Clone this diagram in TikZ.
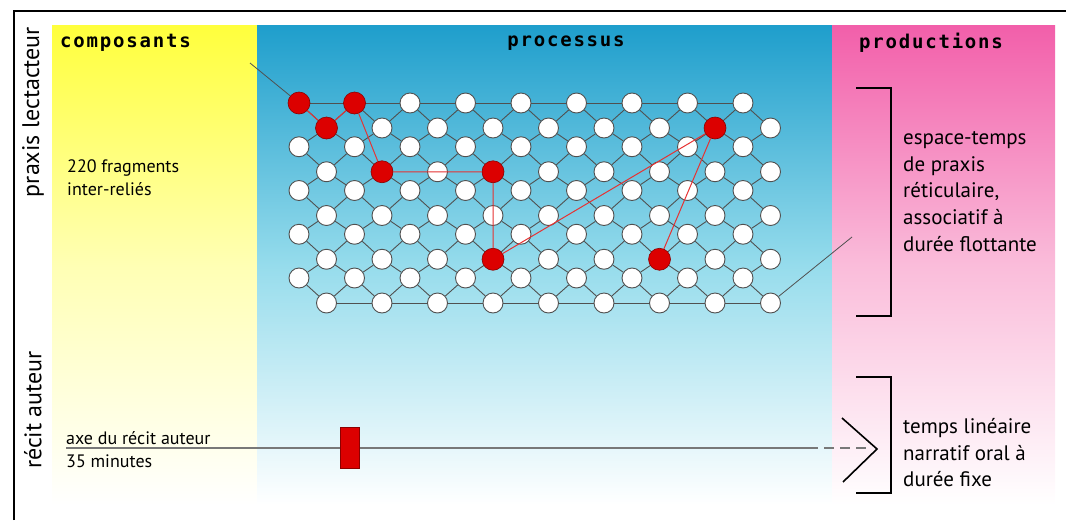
\documentclass[tikz,border=0pt]{standalone}
\usepackage{fontspec}
\setmainfont{PT Sans}
\newfontfamily\headfont[LetterSpace=9.5]{DejaVu Sans Mono}
\usetikzlibrary{positioning}
\definecolor{bandyellow}{RGB}{255,255,60}
\definecolor{bandyellowmid}{RGB}{255,255,180}
\definecolor{bandblue}{RGB}{30,158,204}
\definecolor{bandbluemid}{RGB}{150,220,236}
\definecolor{bandpink}{RGB}{242,95,170}
\definecolor{bandpinkmid}{RGB}{250,188,218}
\definecolor{knotred}{RGB}{220,0,0}
\definecolor{knotdark}{RGB}{140,0,0}
\definecolor{trailred}{RGB}{230,50,50}
\definecolor{meshgray}{RGB}{80,80,80}
\definecolor{axisgray}{RGB}{120,120,120}

\begin{document}
\begin{tikzpicture}[x=1pt,y=-1pt,
  frag/.style={circle,draw=meshgray,fill=white,line width=0.9pt,
               minimum size=20pt,inner sep=0pt},
  hot/.style={circle,draw=knotdark,fill=knotred,line width=0.6pt,
              minimum size=22pt,inner sep=0pt},
  link/.style={draw=meshgray,line width=0.9pt},
  trail/.style={draw=trailred,line width=1pt},
  leader/.style={draw=meshgray,line width=0.8pt},
  head/.style={font=\headfont\bfseries\fontsize{19}{19}\selectfont,inner sep=0pt},
  side/.style={font=\fontsize{24}{24}\selectfont,rotate=90,inner sep=0pt},
  note/.style={font=\fontsize{21}{26.8}\selectfont,align=left,inner sep=0pt},
  small/.style={font=\fontsize{18}{23.5}\selectfont,align=left,inner sep=0pt},
  brack/.style={draw=black,line width=1.5pt},
  axis/.style={draw=axisgray,line width=2pt},
  marker/.style={rectangle,draw=knotdark,fill=knotred,line width=0.6pt,
                 minimum width=19pt,minimum height=41pt,inner sep=0pt}
]
\useasboundingbox (0,0) rectangle (1066,520);

% colour bands
\shade[top color=bandyellow,bottom color=white,middle color=bandyellowmid]
  (52,25) rectangle (257,505);
\shade[top color=bandblue,bottom color=white,middle color=bandbluemid]
  (257,25) rectangle (832,505);
\shade[top color=bandpink,bottom color=white,middle color=bandpinkmid]
  (832,25) rectangle (1055,505);
\draw[line width=1.5pt] (14,520) -- (14,11) -- (1066,11);

% headings
\node[head,anchor=west] (compo) at (60,43) {composants};
\node[head] (proc) at (566,43) {processus};
\node[head] (prod) at (931,43) {productions};
\node[side] (praxis) at (33,112) {praxis lectacteur};
\node[side] (recit) at (33,410) {récit auteur};

% the 220 fragments
\foreach \k in {0,...,4}{
  \foreach \c in {0,...,8}{
    \pgfmathtruncatemacro\re{2*\k}
    \pgfmathtruncatemacro\ro{2*\k+1}
    \node[frag] (n-\re-\c) at ({299+55.5*\c},{103+43.75*\k}) {};
    \node[frag] (n-\ro-\c) at ({326.5+55.5*\c},{128+43.75*\k}) {};
  }
}
\foreach \k in {0,...,4}{
  \foreach \c in {0,...,8}{
    \pgfmathtruncatemacro\re{2*\k}
    \pgfmathtruncatemacro\ro{2*\k+1}
    \pgfmathtruncatemacro\ru{2*\k-1}
    \pgfmathtruncatemacro\cl{\c-1}
    \draw[link] (n-\re-\c) -- (n-\ro-\c);
    \ifnum\c>0 \draw[link] (n-\re-\c) -- (n-\ro-\cl); \fi
    \ifnum\k>0
      \draw[link] (n-\re-\c) -- (n-\ru-\c);
      \ifnum\c>0 \draw[link] (n-\re-\c) -- (n-\ru-\cl); \fi
    \fi
  }
}
\foreach \c in {0,...,7}{
  \pgfmathtruncatemacro\cn{\c+1}
  \draw[link] (n-0-\c) -- (n-0-\cn);
  \draw[link] (n-9-\c) -- (n-9-\cn);
}

% reading path
\foreach \r/\c [count=\i] in {0/0,1/0,0/1,3/1,3/3,7/3,1/7,7/6}
  \node[hot] (h\i) at (n-\r-\c) {};
\draw[trail] (h1) -- (h2) -- (h3) -- (h4) -- (h5) -- (h6) -- (h7) -- (h8);

\coordinate (lead-in) at (250,63);
\coordinate (lead-out) at (852,237);
\draw[leader] (lead-in) -- (h1);
\draw[leader] (n-9-8) -- (lead-out);

\node[small,anchor=north west] (frags) at (67,159) {220 fragments\\inter-reliés};

% productions
\draw[brack] (856,88) -- (891,88) -- (891,316) -- (856,316);
\draw[brack] (856,377) -- (891,377) -- (891,493) -- (856,493);
\node[note,anchor=north west] (reseau) at (903,131)
  {espace-temps\\de praxis\\réticulaire,\\associatif à\\durée flottante};
\node[note,anchor=north west] (lineaire) at (903,418)
  {temps linéaire\\narratif oral à\\durée fixe};

% author axis
\coordinate (ax0) at (66,448);
\coordinate (ax1) at (808,448);
\coordinate (ax2) at (870,448);
\draw[axis] (ax0) -- (ax1);
\draw[axis,dash pattern=on 10pt off 6pt] (ax1) -- (ax2);
\node[marker] (now) at (349.5,448) {};
\draw[line width=1.6pt] (842,418) -- (877,449) -- (843,482);
\node[small,anchor=base west] (axe) at (66,444) {axe du récit auteur};
\node[small,anchor=base west] (duree) at (66,467) {35 minutes};
\end{tikzpicture}
\end{document}
